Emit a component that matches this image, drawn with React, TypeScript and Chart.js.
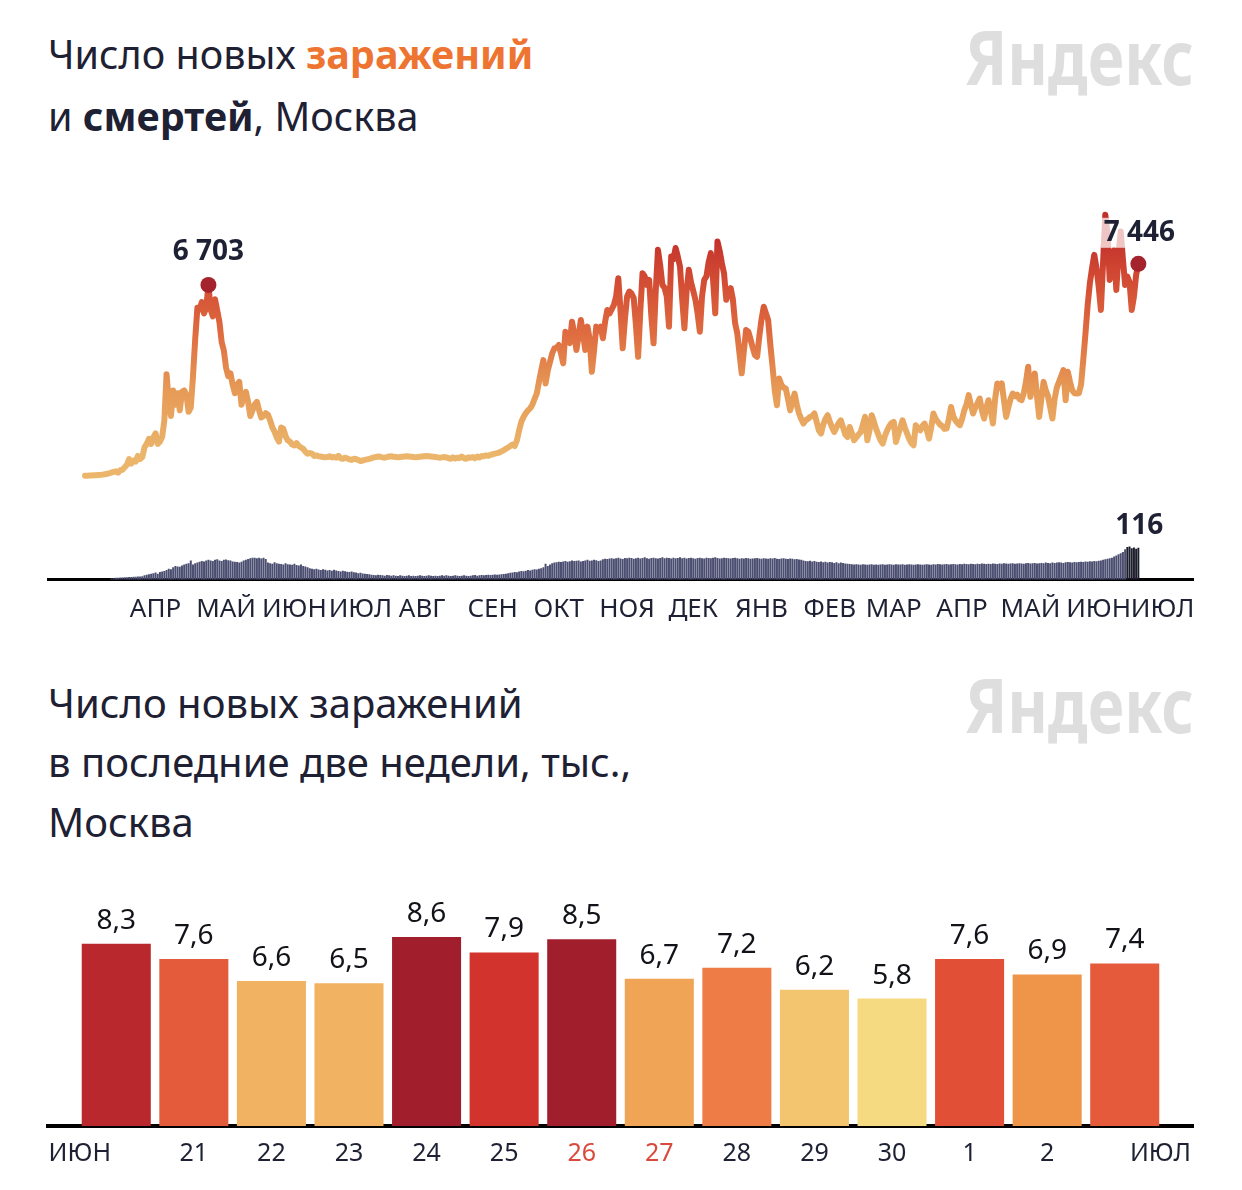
import React, { useEffect, useRef } from "react";
import { Chart, registerables } from "chart.js";

Chart.register(...registerables);

const FONT = '"Noto Sans", sans-serif';
const INK = "#1e2133";

// Daily new cases, Moscow; day 0 = first day of the series (rows of 10 days)
const cases: number[] = [
  5, 8, 12, 15, 20, 25, 30, 35, 45, 55,
  75, 90, 120, 140, 160, 115, 200, 215, 300, 390,
  590, 430, 540, 500, 700, 590, 660, 1000, 1120, 1300,
  1120, 1350, 1490, 1120, 1200, 1370, 1950, 3570, 2600, 2100,
  3000, 2500, 2900, 2300, 2950, 3000, 2850, 2250, 2400, 3500,
  4800, 5900, 5850, 6100, 5700, 5900, 6703, 5850, 5600, 6200,
  5800, 5400, 4700, 4400, 3800, 3500, 3600, 3200, 2900, 3200,
  3300, 2500, 2800, 2950, 2600, 2100, 2300, 2500, 2600, 2300,
  2050, 2100, 2200, 2150, 1950, 1700, 1550, 1350, 1200, 1700,
  1650, 1400, 1250, 1200, 1100, 1070, 1150, 1050, 1000, 950,
  850, 780, 800, 780, 700, 720, 690, 680, 660, 650,
  660, 690, 650, 660, 640, 700, 620, 600, 640, 610,
  580, 560, 600, 590, 560, 520, 540, 560, 580, 600,
  620, 650, 660, 680, 670, 650, 640, 660, 680, 690,
  670, 660, 650, 660, 670, 680, 690, 680, 670, 660,
  650, 660, 670, 680, 690, 700, 690, 680, 670, 660,
  650, 640, 650, 660, 650, 620, 600, 650, 610, 640,
  630, 680, 620, 600, 650, 640, 660, 620, 680, 650,
  700, 690, 720, 700, 740, 760, 780, 800, 820, 860,
  900, 950, 1000, 1050, 1100, 1050, 1250, 1600, 1900, 2070,
  2200, 2300, 2370, 2500, 2700, 2890, 3300, 3700, 4065, 3245,
  3700, 4000, 4300, 4477, 4500, 4594, 4300, 3950, 5062, 4900,
  4660, 5415, 5000, 4418, 4900, 5474, 5000, 4418, 5240, 4800,
  3654, 4400, 5240, 5100, 5240, 4830, 5400, 5826, 5700, 5850,
  6000, 6294, 6940, 5800, 4477, 5500, 6300, 6470, 6400, 6240,
  5300, 4182, 5800, 7117, 7000, 6700, 6880, 5600, 4653, 6500,
  7937, 7400, 6705, 6600, 6300, 5240, 7700, 7600, 8000, 7700,
  7350, 6200, 5180, 6500, 7234, 6800, 6500, 6180, 5700, 5062,
  6300, 6880, 7000, 7500, 7820, 6900, 5710, 8230, 7900, 7470,
  7100, 6180, 6400, 6590, 6200, 5360, 5000, 4300, 3600, 4400,
  5120, 5062, 4800, 4500, 4240, 4182, 4900, 5500, 5940, 5700,
  5474, 4600, 3830, 3000, 2480, 3420, 3200, 3100, 3070, 2700,
  2300, 2600, 2890, 2500, 2200, 2000, 1837, 1950, 2000, 2070,
  2100, 2190, 1900, 1600, 1485, 1800, 2000, 2130, 1900, 1700,
  1540, 1700, 1850, 1950, 1700, 1450, 1366, 1718, 1500, 1250,
  1350, 1450, 1540, 1800, 2070, 1250, 1600, 2130, 1900, 1650,
  1450, 1250, 1133, 1400, 1600, 1750, 1850, 1894, 1190, 1450,
  1700, 1950, 1700, 1500, 1300, 1150, 1074, 1780, 1650, 1600,
  1750, 1837, 1600, 1310, 1700, 2190, 2000, 1900, 1800, 1750,
  1650, 1660, 2000, 2420, 2100, 1950, 1850, 1780, 2000, 2300,
  2500, 2834, 2500, 2190, 2400, 2550, 2717, 2300, 2013, 2400,
  2657, 2300, 1837, 2700, 3245, 3100, 3245, 2657, 2070, 2400,
  2700, 2890, 2800, 2850, 2700, 2657, 2900, 3300, 3830, 2774,
  3200, 3597, 2800, 2070, 2700, 3300, 3000, 2800, 2400, 2013,
  2700, 3100, 3300, 3500, 3714, 2657, 3654, 3300, 3000, 2900,
  2890, 2900, 3200, 4065, 5000, 6000, 6765, 7300, 7760, 7300,
  6646, 5826, 7500, 9170, 8500, 6880, 7400, 7937, 6530, 7800,
  8580, 7600, 6705, 7000, 6800, 5826, 6300, 7060, 7446,
];

// Daily deaths, Moscow (same day index, rows of 10 days)
const deaths: number[] = [
  0, 0, 0, 0, 0, 0, 0, 0, 0, 0,
  0, 0, 5, 6, 7, 7, 8, 8, 9, 9,
  10, 10, 11, 11, 12, 12, 13, 16, 18, 20,
  22, 24, 26, 22, 28, 30, 32, 35, 40, 38,
  45, 50, 48, 47, 52, 55, 58, 60, 70, 55,
  60, 62, 65, 68, 66, 70, 72, 70, 68, 72,
  74, 70, 68, 72, 73, 71, 70, 66, 65, 64,
  62, 65, 70, 72, 75, 78, 80, 80, 78, 80,
  77, 80, 75, 62, 60, 58, 63, 60, 58, 57,
  55, 60, 56, 55, 54, 58, 53, 52, 55, 50,
  48, 45, 42, 40, 38, 40, 37, 35, 38, 36,
  34, 35, 33, 36, 34, 32, 30, 33, 31, 29,
  28, 30, 27, 26, 24, 25, 23, 22, 21, 20,
  18, 17, 16, 18, 17, 16, 15, 17, 16, 15,
  16, 15, 14, 16, 15, 14, 15, 16, 14, 15,
  14, 15, 16, 15, 14, 15, 16, 15, 14, 15,
  14, 15, 16, 15, 16, 15, 14, 15, 16, 15,
  14, 15, 16, 15, 14, 15, 16, 17, 15, 16,
  17, 16, 17, 18, 17, 18, 19, 18, 19, 20,
  21, 22, 24, 25, 26, 28, 27, 30, 32, 31,
  33, 35, 34, 36, 38, 37, 40, 42, 45, 58,
  50, 55, 60, 62, 63, 65, 64, 66, 68, 65,
  67, 70, 68, 69, 70, 66, 68, 70, 72, 69,
  70, 72, 71, 68, 70, 74, 76, 75, 77, 78,
  76, 78, 80, 77, 75, 79, 78, 80, 79, 76,
  78, 80, 77, 79, 81, 78, 76, 79, 80, 78,
  77, 79, 81, 78, 80, 79, 77, 80, 78, 79,
  81, 78, 80, 77, 79, 80, 78, 76, 79, 80,
  78, 77, 80, 79, 78, 80, 81, 79, 77, 78,
  80, 79, 78, 77, 79, 80, 78, 76, 78, 77,
  79, 78, 76, 77, 78, 79, 77, 76, 78, 77,
  76, 78, 77, 79, 76, 75, 77, 78, 76, 75,
  77, 76, 74, 75, 73, 72, 70, 68, 67, 69,
  66, 68, 65, 64, 66, 63, 65, 62, 64, 63,
  61, 63, 60, 62, 61, 59, 58, 57, 56, 55,
  56, 55, 54, 56, 55, 54, 55, 56, 54, 55,
  54, 55, 56, 54, 55, 56, 55, 54, 56, 55,
  55, 56, 54, 55, 56, 55, 54, 55, 56, 55,
  54, 55, 56, 55, 54, 56, 55, 57, 56, 55,
  56, 57, 55, 56, 57, 56, 55, 57, 56, 58,
  57, 56, 58, 57, 56, 58, 57, 59, 58, 57,
  58, 57, 59, 58, 57, 59, 58, 60, 59, 58,
  59, 60, 58, 59, 60, 59, 58, 60, 61, 59,
  60, 61, 59, 60, 61, 60, 62, 61, 60, 62,
  61, 62, 63, 62, 61, 63, 64, 63, 62, 64,
  63, 64, 65, 64, 66, 65, 67, 66, 68, 67,
  69, 70, 72, 74, 76, 78, 80, 84, 88, 92,
  96, 100, 110, 118, 120, 114, 117, 112, 116,
];

const monthLabels = ["АПР", "МАЙ", "ИЮН", "ИЮЛ", "АВГ", "СЕН", "ОКТ", "НОЯ", "ДЕК", "ЯНВ", "ФЕВ", "МАР", "АПР", "МАЙ", "ИЮН", "ИЮЛ"];
const monthTickDays = [32, 64, 95, 125, 153, 185, 215, 246, 276, 307, 338, 367, 398, 429, 460, 489];
const peakDay = 56;
const lastDay = cases.length - 1;
const highlightFromDay = 473;

const weekLabels = ["ИЮН", "21", "22", "23", "24", "25", "26", "27", "28", "29", "30", "1", "2", "ИЮЛ"];
const weekTickPos = [-0.47, 1, 2, 3, 4, 5, 6, 7, 8, 9, 10, 11, 12, 13.46];
const weekValues = [8.3, 7.6, 6.6, 6.5, 8.6, 7.9, 8.5, 6.7, 7.2, 6.2, 5.8, 7.6, 6.9, 7.4];
const weekendLabels = ["26", "27"];
const weekColors = ["#b8282c", "#e45b3b", "#f1b262", "#f1b262", "#a11f2d", "#d2332c", "#a11f2d", "#efa456", "#ee7c47", "#f3c56f", "#f6da82", "#e14f36", "#ee9549", "#e45a3b"];

const fmt = (v: number) => {
  const s = String(v);
  return s.length > 3 ? s.slice(0, -3) + " " + s.slice(-3) : s;
};

function TopChart() {
  const ref = useRef<HTMLCanvasElement>(null);
  useEffect(() => {
    const labelPlugin = {
      id: "toplabels",
      afterDatasetsDraw(chart: any) {
        const { ctx, scales } = chart;
        const x = scales.x, y = scales.y, y2 = scales.y2;
        ctx.save();
        ctx.font = `bold 28px ${FONT}`;
        ctx.textAlign = "center";
        ctx.textBaseline = "middle";
        ctx.fillStyle = INK;
        ctx.fillText(fmt(cases[peakDay]), x.getPixelForValue(peakDay), y.getPixelForValue(cases[peakDay]) - 33);
        const lx = x.getPixelForValue(lastDay) + 1;
        const ly = y.getPixelForValue(cases[lastDay]) - 31;
        const t = fmt(cases[lastDay]);
        const w = ctx.measureText(t).width;
        ctx.fillStyle = "rgba(255,255,255,0.72)";
        ctx.fillRect(lx - w / 2 - 3, ly - 15, w + 6, 30);
        ctx.fillStyle = INK;
        ctx.fillText(t, lx, ly);
        ctx.fillText(String(deaths[lastDay]), x.getPixelForValue(lastDay) + 1, y2.getPixelForValue(deaths[lastDay]) - 22);
        ctx.restore();
      },
    };
    const chart = new Chart(ref.current!, {
      type: "bar",
      data: {
        datasets: [
          {
            type: "line",
            data: cases.map((v, i) => ({ x: i, y: v })),
            yAxisID: "y",
            order: 0,
            borderWidth: 6,
            tension: 0,
            borderJoinStyle: "round",
            borderCapStyle: "round",
            borderColor: (c: any) => {
              const ch = c.chart;
              const { ctx, chartArea, scales } = ch;
              if (!chartArea || !scales.y) return "#e8ad66";
              const g = ctx.createLinearGradient(0, scales.y.getPixelForValue(700), 0, scales.y.getPixelForValue(8500));
              g.addColorStop(0, "#ebb66c");
              g.addColorStop(0.3, "#e69a56");
              g.addColorStop(0.55, "#df6c40");
              g.addColorStop(0.8, "#d24a33");
              g.addColorStop(1, "#c12f2b");
              return g;
            },
            pointRadius: (c: any) => (c.dataIndex === peakDay || c.dataIndex === lastDay ? 8 : 0),
            pointHoverRadius: 0,
            pointBackgroundColor: "#a4232c",
            pointBorderWidth: 0,
          } as any,
          {
            type: "bar",
            data: deaths.map((v, i) => ({ x: i, y: v })),
            yAxisID: "y2",
            order: 1,
            backgroundColor: deaths.map((_, i) => (i >= highlightFromDay ? "#1d1e2c" : "#4b4e70")),
            barPercentage: 0.9,
            categoryPercentage: 1,
            borderWidth: 0,
          } as any,
        ],
      },
      options: {
        responsive: false,
        animation: false,
        layout: { padding: { left: 48, right: 49, top: 0, bottom: 0 } },
        plugins: { legend: { display: false }, tooltip: { enabled: false } },
        scales: {
          x: {
            type: "linear",
            min: -16.8,
            max: 502.8,
            offset: false,
            grid: { display: false, drawTicks: false },
            border: { display: true, color: "#000000", width: 3 },
            afterBuildTicks: (s: any) => {
              s.ticks = monthTickDays.map((v) => ({ value: v }));
            },
            ticks: {
              autoSkip: false,
              maxRotation: 0,
              minRotation: 0,
              padding: 14,
              color: INK,
              font: { family: FONT, size: 26 },
              callback: (_v: any, i: number) => monthLabels[i],
            },
          },
          y: { display: false, min: -3648, max: 10458 },
          y2: { display: false, min: 0, max: 1450 },
        },
      } as any,
      plugins: [labelPlugin],
    });
    return () => chart.destroy();
  }, []);
  return <canvas ref={ref} width={1242} height={469} style={{ position: "absolute", left: 0, top: 170, width: 1242, height: 469 }} />;
}

function WeekChart() {
  const ref = useRef<HTMLCanvasElement>(null);
  useEffect(() => {
    const valuePlugin = {
      id: "values",
      afterDatasetsDraw(chart: any) {
        const { ctx } = chart;
        const meta = chart.getDatasetMeta(0);
        ctx.save();
        ctx.font = `28px ${FONT}`;
        ctx.fillStyle = "#111318";
        ctx.textAlign = "center";
        ctx.textBaseline = "alphabetic";
        meta.data.forEach((el: any, i: number) => {
          ctx.fillText(String(weekValues[i]).replace(".", ","), el.x, el.y - 15);
        });
        ctx.restore();
      },
    };
    const chart = new Chart(ref.current!, {
      type: "bar",
      data: {
        datasets: [
          {
            data: weekValues.map((v, i) => ({ x: i, y: v })),
            backgroundColor: weekColors,
            barPercentage: 0.89,
            categoryPercentage: 1,
            borderWidth: 0,
          },
        ],
      },
      options: {
        responsive: false,
        animation: false,
        layout: { padding: { left: 48, right: 49, top: 0, bottom: 0 } },
        plugins: { legend: { display: false }, tooltip: { enabled: false } },
        scales: {
          x: {
            type: "linear",
            min: -0.88,
            max: 13.88,
            offset: false,
            grid: { display: false, drawTicks: false },
            border: { display: true, color: "#000000", width: 4 },
            afterBuildTicks: (s: any) => {
              s.ticks = weekTickPos.map((v) => ({ value: v }));
            },
            ticks: {
              autoSkip: false,
              maxRotation: 0,
              minRotation: 0,
              padding: 13,
              font: { family: FONT, size: 25 },
              color: (c: any) => (weekendLabels.includes(weekLabels[c.index]) ? "#d9493c" : INK),
              callback: (_v: any, i: number) => weekLabels[i],
            },
          },
          y: { display: false, min: 0, max: 11.2 },
        },
      } as any,
      plugins: [valuePlugin],
    });
    return () => chart.destroy();
  }, []);
  return <canvas ref={ref} width={1242} height={302} style={{ position: "absolute", left: 0, top: 880, width: 1242, height: 302 }} />;
}

const logoStyle: React.CSSProperties = {
  position: "absolute",
  right: 1242 - 1194,
  fontFamily: FONT,
  fontWeight: 700,
  fontSize: 75,
  lineHeight: "75px",
  letterSpacing: 0,
  color: "#dedede",
  whiteSpace: "nowrap",
  transform: "scaleX(0.83)",
  transformOrigin: "right top",
};

export default function App() {
  return (
    <div style={{ position: "absolute", left: 0, top: 0, width: 1242, height: 1190, background: "#fff", overflow: "hidden", fontFamily: FONT, color: INK }}>
      <div style={{ position: "absolute", left: 48, top: 24, fontSize: 39.5, lineHeight: "61.5px", whiteSpace: "nowrap" }}>
        Число новых <b style={{ color: "#ee7431", fontWeight: 700 }}>заражений</b>
        <br />и <b style={{ fontWeight: 700 }}>смертей</b>, Москва
      </div>
      <div style={{ ...logoStyle, top: 19 }}>Яндекс</div>
      <TopChart />
      <div style={{ position: "absolute", left: 48, top: 673, fontSize: 40, lineHeight: "59.3px", whiteSpace: "nowrap" }}>
        Число новых заражений
        <br />в последние две недели, тыс.,
        <br />Москва
      </div>
      <div style={{ ...logoStyle, top: 667 }}>Яндекс</div>
      <WeekChart />
    </div>
  );
}
